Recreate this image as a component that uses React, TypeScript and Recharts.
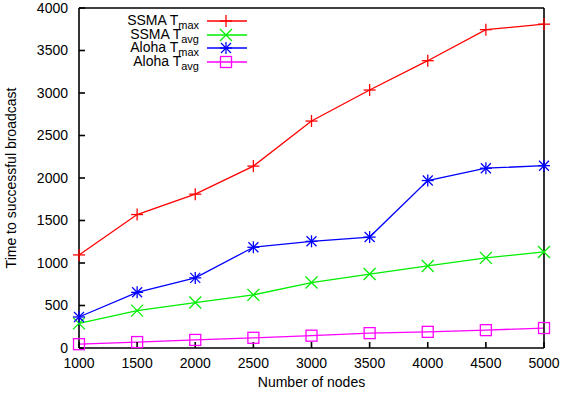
import { LineChart, Line, XAxis, YAxis, Legend } from "recharts";

const nodes = [1000, 1500, 2000, 2500, 3000, 3500, 4000, 4500, 5000];
const ssmaMax = [1095, 1570, 1810, 2140, 2670, 3035, 3380, 3745, 3810];
const ssmaAvg = [290, 440, 535, 625, 770, 870, 965, 1060, 1130];
const alohaMax = [365, 655, 825, 1185, 1255, 1305, 1970, 2115, 2145];
const alohaAvg = [45, 70, 95, 120, 145, 175, 190, 210, 235];

const xTicks = [1000, 1500, 2000, 2500, 3000, 3500, 4000, 4500, 5000];
const yTicks = [0, 500, 1000, 1500, 2000, 2500, 3000, 3500, 4000];

const series = [
  { key: "ssmaMax", name: "SSMA T", sub: "max", color: "#ff0000", marker: "plus" },
  { key: "ssmaAvg", name: "SSMA T", sub: "avg", color: "#00ee00", marker: "cross" },
  { key: "alohaMax", name: "Aloha T", sub: "max", color: "#0000ff", marker: "star" },
  { key: "alohaAvg", name: "Aloha T", sub: "avg", color: "#ff00ff", marker: "square" },
];

const data = nodes.map((n, i) => ({
  n,
  ssmaMax: ssmaMax[i],
  ssmaAvg: ssmaAvg[i],
  alohaMax: alohaMax[i],
  alohaAvg: alohaAvg[i],
}));

const FONT = "'Liberation Sans', Arial, Helvetica, sans-serif";

// gnuplot style point types
function markerShape(kind: string, cx: number, cy: number, color: string, key?: string) {
  const s = 6;
  const w = 1.3;
  if (kind === "plus") {
    return (
      <g key={key} stroke={color} strokeWidth={w}>
        <line x1={cx - s} y1={cy} x2={cx + s} y2={cy} />
        <line x1={cx} y1={cy - s} x2={cx} y2={cy + s} />
      </g>
    );
  }
  if (kind === "cross") {
    return (
      <g key={key} stroke={color} strokeWidth={w}>
        <line x1={cx - s} y1={cy - s} x2={cx + s} y2={cy + s} />
        <line x1={cx - s} y1={cy + s} x2={cx + s} y2={cy - s} />
      </g>
    );
  }
  if (kind === "star") {
    return (
      <g key={key} stroke={color} strokeWidth={w}>
        <line x1={cx - s} y1={cy} x2={cx + s} y2={cy} />
        <line x1={cx} y1={cy - s} x2={cx} y2={cy + s} />
        <line x1={cx - s + 1} y1={cy - s + 1} x2={cx + s - 1} y2={cy + s - 1} />
        <line x1={cx - s + 1} y1={cy + s - 1} x2={cx + s - 1} y2={cy - s + 1} />
      </g>
    );
  }
  return (
    <rect key={key} x={cx - 5.5} y={cy - 5.5} width={11} height={11} fill="none" stroke={color} strokeWidth={w} />
  );
}

function renderLegend() {
  return (
    <div style={{ fontFamily: FONT, fontSize: 14, color: "#000" }}>
      {series.map((s) => (
        <div key={s.key} style={{ display: "flex", alignItems: "center", height: 13.9 }}>
          <div style={{ width: 130, textAlign: "right", whiteSpace: "nowrap", position: "relative", top: -1 }}>
            {s.name}
            <sub style={{ fontSize: 11, verticalAlign: "-4px", lineHeight: 0 }}>{s.sub}</sub>
          </div>
          <svg width={42} height={14} style={{ marginLeft: 8, overflow: "visible" }}>
            <line x1={0} y1={7} x2={40} y2={7} stroke={s.color} strokeWidth={1.3} />
            {markerShape(s.marker, 19, 7, s.color)}
          </svg>
        </div>
      ))}
    </div>
  );
}

export default function App() {
  const tickStyle = { fontFamily: FONT, fontSize: 14, fill: "#000" };
  return (
    <div style={{ position: "absolute", left: 0, top: 0, background: "#fff" }}>
      <LineChart width={563} height={396} data={data} margin={{ top: 7, right: 18, left: 0, bottom: 0 }}>
        <XAxis
          dataKey="n"
          type="number"
          domain={[1000, 5000]}
          ticks={xTicks}
          height={48}
          stroke="#000"
          strokeWidth={1.6}
          tickSize={-6}
          tickMargin={16}
          tick={tickStyle}
          label={{ value: "Number of nodes", position: "insideBottom", offset: 9, style: { fontFamily: FONT, fontSize: 14, fill: "#000" } }}
        />
        <XAxis
          xAxisId="top"
          orientation="top"
          dataKey="n"
          type="number"
          domain={[1000, 5000]}
          ticks={xTicks}
          height={1}
          stroke="#000"
          strokeWidth={1.6}
          tickSize={-6}
          tick={false}
        />
        <YAxis
          type="number"
          domain={[0, 4000]}
          ticks={yTicks}
          width={79}
          stroke="#000"
          strokeWidth={1.6}
          tickSize={-6}
          tickMargin={17}
          tick={tickStyle}
          label={{
            value: "Time to successful broadcast",
            angle: -90,
            position: "insideLeft",
            offset: 11,
            style: { textAnchor: "middle", fontFamily: FONT, fontSize: 14, fill: "#000" },
          }}
        />
        <YAxis
          yAxisId="right"
          orientation="right"
          type="number"
          domain={[0, 4000]}
          ticks={yTicks}
          width={1}
          stroke="#000"
          strokeWidth={1.6}
          tickSize={-6}
          tick={false}
        />
        <Legend
          layout="horizontal"
          verticalAlign="middle"
          content={renderLegend}
          wrapperStyle={{ position: "absolute", top: 13.75, left: 69, width: "auto" }}
        />
        {series.map((s) => (
          <Line
            key={s.key}
            dataKey={s.key}
            stroke={s.color}
            strokeWidth={1.3}
            isAnimationActive={false}
            dot={(p: any) => markerShape(s.marker, p.cx, p.cy, s.color, `${s.key}-${p.index}`)}
          />
        ))}
      </LineChart>
    </div>
  );
}
